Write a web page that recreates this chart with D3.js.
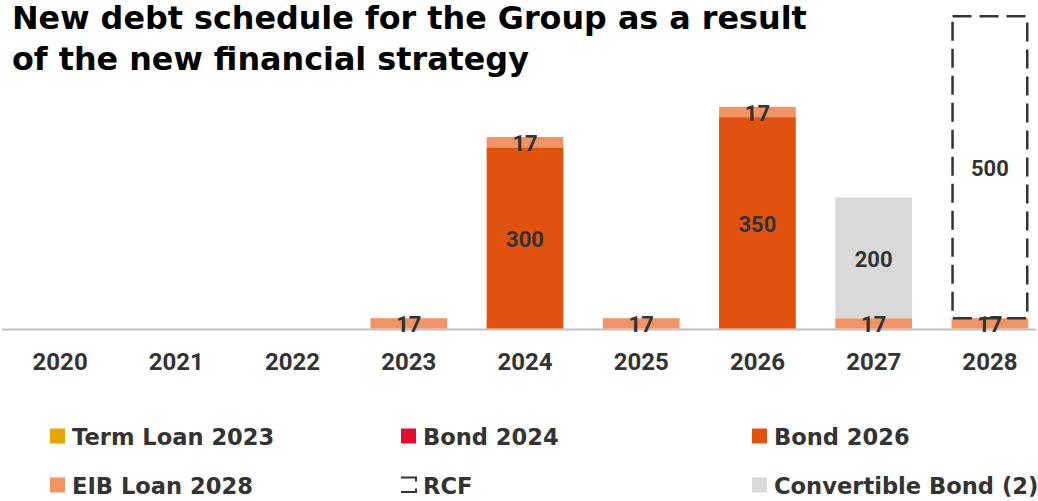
<!DOCTYPE html>
<html>
<head>
<meta charset="utf-8">
<script src="https://cdn.jsdelivr.net/npm/d3@7"></script>
<style>
  body { margin: 0; background: #fff; }
</style>
</head>
<body>
<div class="canvas"></div>
<script>
// data
const years = ["2020", "2021", "2022", "2023", "2024", "2025", "2026", "2027", "2028"];
const termLoan2023 = [0, 0, 0, 0, 0, 0, 0, 0, 0];
const bond2024 = [0, 0, 0, 0, 0, 0, 0, 0, 0];
const bond2026 = [0, 0, 0, 0, 300, 0, 350, 0, 0];
const eibLoan2028 = [0, 0, 0, 17, 17, 17, 17, 17, 17];
const convertibleBond = [0, 0, 0, 0, 0, 0, 0, 200, 0];
const rcf = [0, 0, 0, 0, 0, 0, 0, 0, 500];

const titleLines = ["New debt schedule for the Group as a result", "of the new financial strategy"];

const W = 1038, H = 501;
const textColor = "#333333";
const labelFont = "Roboto, 'Liberation Sans', sans-serif";
const gothicFont = "'DejaVu Sans', sans-serif";

const series = [
    { key: "term", name: "Term Loan 2023", values: termLoan2023, color: "#e8a500" },
    { key: "b24", name: "Bond 2024", values: bond2024, color: "#e30b2f" },
    { key: "b26", name: "Bond 2026", values: bond2026, color: "#e2520f" },
    { key: "eib", name: "EIB Loan 2028", values: eibLoan2028, color: "#f09466" },
    { key: "cb", name: "Convertible Bond (2)", values: convertibleBond, color: "#d9d9d9" },
    { key: "rcf", name: "RCF", values: rcf, color: "none" }
];

const table = years.map((y, i) => {
    const row = { year: y };
    series.forEach(s => row[s.key] = s.values[i]);
    return row;
});

const svg = d3.select('.canvas').append('svg')
    .attr('width', W)
    .attr('height', H)
    .style('display', 'block');

// title
svg.append('g').selectAll('text')
    .data(titleLines)
    .enter()
    .append('text')
    .attr('x', 12)
    .attr('y', (d, i) => 29 + i * 41)
    .attr('font-family', gothicFont)
    .attr('font-weight', 'bold')
    .attr('font-size', 31.8)
    .attr('fill', '#000')
    .text(d => d);

const baseY = 328.5;

const x = d3.scaleBand()
    .domain(years)
    .range([2, 1048])
    .paddingInner(0.34)
    .paddingOuter(0.17);

const y = d3.scaleLinear()
    .domain([0, 500])
    .range([baseY, baseY - 302]);

const stacked = d3.stack().keys(series.map(s => s.key))(table);

// axis line
svg.append('line')
    .attr('x1', 2).attr('x2', 1036)
    .attr('y1', baseY + 1).attr('y2', baseY + 1)
    .attr('stroke', '#bfbfbf')
    .attr('stroke-width', 2);

const graph = svg.append('g');

const segsOf = (layer, s) => layer
    .map((d, i) => ({ y0: d[0], y1: d[1], year: years[i], v: s.values[i] }))
    .filter(d => d.v > 0);

stacked.forEach((layer, li) => {
    const s = series[li];
    const segs = segsOf(layer, s);

    if (s.key === "rcf") {
        graph.selectAll('rect.rcf')
            .data(segs)
            .enter()
            .append('rect')
            .attr('class', 'rcf')
            .attr('x', d => x(d.year) + 1)
            .attr('width', x.bandwidth() - 2)
            .attr('y', d => y(d.y1))
            .attr('height', d => y(d.y0) - y(d.y1))
            .attr('fill', 'none')
            .attr('stroke', '#333')
            .attr('stroke-width', 2.5)
            .attr('stroke-dasharray', '19,8');
    } else {
        graph.selectAll('rect.' + s.key)
            .data(segs)
            .enter()
            .append('rect')
            .attr('class', s.key)
            .attr('x', d => x(d.year))
            .attr('width', x.bandwidth())
            .attr('y', d => y(d.y1))
            .attr('height', d => y(d.y0) - y(d.y1))
            .attr('fill', s.color);
    }
});

// value labels
stacked.forEach((layer, li) => {
    const s = series[li];
    graph.selectAll('text.lbl-' + s.key)
        .data(segsOf(layer, s))
        .enter()
        .append('text')
        .attr('class', 'lbl-' + s.key)
        .attr('x', d => x(d.year) + x.bandwidth() / 2)
        .attr('y', d => (y(d.y0) + y(d.y1)) / 2 + 1)
        .attr('dy', '0.36em')
        .attr('text-anchor', 'middle')
        .attr('font-family', labelFont)
        .attr('font-weight', 'bold')
        .attr('font-size', 22)
        .attr('fill', textColor)
        .text(d => d.v);
});

// year labels
const xAxis = d3.axisBottom(x).tickSize(0).tickPadding(0);
const xAxisGroup = svg.append('g')
    .attr('transform', `translate(0, 370)`)
    .call(xAxis);
xAxisGroup.select('.domain').remove();
xAxisGroup.selectAll('text')
    .attr('dy', 0)
    .attr('y', 0)
    .attr('font-family', labelFont)
    .attr('font-weight', 'bold')
    .attr('font-size', 24)
    .attr('fill', textColor);

// legend
const legendOrder = ["term", "b24", "b26", "eib", "rcf", "cb"];
const colX = [50, 401, 752];
const rowY = [436, 485];
const legend = svg.append('g');
legendOrder.forEach((key, i) => {
    const s = series.find(d => d.key === key);
    const gx = colX[i % 3], gy = rowY[Math.floor(i / 3)];
    const g = legend.append('g').attr('transform', `translate(${gx}, ${gy})`);
    if (key === "rcf") {
        g.append('path')
            .attr('d', 'M0,-7.5 H15 V-3.5 M15,3.5 V7 H0')
            .attr('fill', 'none')
            .attr('stroke', '#333')
            .attr('stroke-width', 2);
    } else {
        g.append('rect')
            .attr('x', 0).attr('y', -7.5)
            .attr('width', 15).attr('height', 15)
            .attr('fill', s.color);
    }
    g.append('text')
        .attr('x', 22)
        .attr('y', 8.5)
        .attr('font-family', gothicFont)
        .attr('font-weight', 'bold')
        .attr('font-size', 22.6)
        .attr('fill', textColor)
        .text(s.name);
});
</script>
</body>
</html>
